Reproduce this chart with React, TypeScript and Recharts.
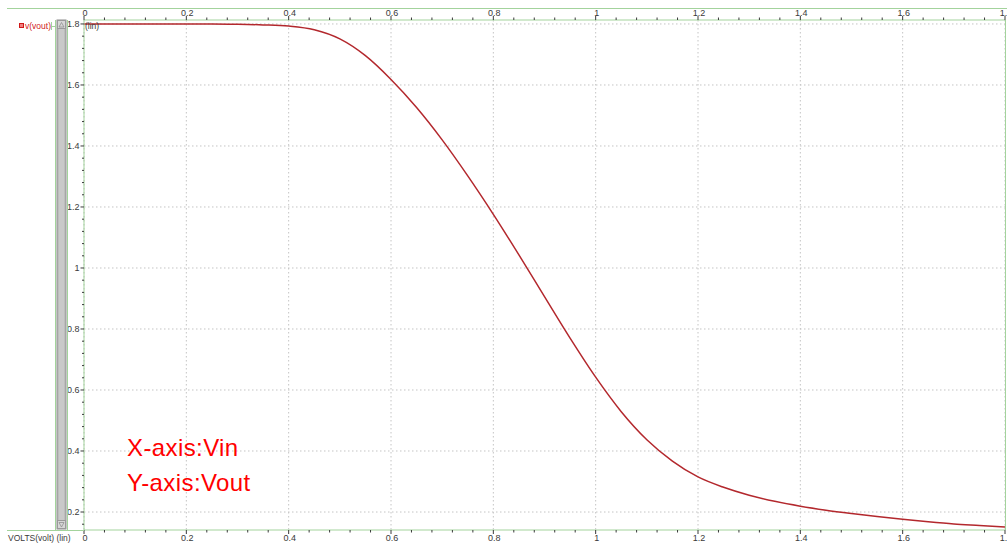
import React from "react";
import { LineChart, Line, XAxis, YAxis, CartesianGrid } from "recharts";

const vin = [
  0, 0.05, 0.1, 0.15, 0.2, 0.25, 0.3, 0.35, 0.4, 0.45, 0.5, 0.55, 0.6, 0.65, 0.7, 0.75, 0.8, 0.85,
  0.9, 0.95, 1.0, 1.05, 1.1, 1.15, 1.2, 1.25, 1.3, 1.35, 1.4, 1.45, 1.5, 1.55, 1.6, 1.65, 1.7,
  1.75, 1.8,
];
const vout = [
  1.8, 1.8, 1.8, 1.8, 1.8, 1.8, 1.799, 1.797, 1.793, 1.781, 1.751, 1.696, 1.618, 1.526, 1.42,
  1.302, 1.176, 1.043, 0.906, 0.77, 0.642, 0.529, 0.437, 0.367, 0.315, 0.281, 0.255, 0.235,
  0.219, 0.206, 0.195, 0.185, 0.176, 0.168, 0.161, 0.156, 0.151,
];

const xMajor = [0, 0.2, 0.4, 0.6, 0.8, 1, 1.2, 1.4, 1.6, 1.8];
const yMajor = [0.2, 0.4, 0.6, 0.8, 1, 1.2, 1.4, 1.6, 1.8];

const W = 1007;
const H = 545;
const GREEN = "#a3d39c";
const RED_LINE = "#b3282d";
const TICK_COLOR = "#3a3a3a";
const FONT = "'Liberation Sans', Arial, sans-serif";

function steps(from: number, to: number, step: number) {
  const out: number[] = [];
  const n = Math.round((to - from) / step);
  for (let i = 0; i <= n; i++) out.push(Math.round((from + i * step) * 1000) / 1000);
  return out;
}

const xTicks = steps(0, 1.8, 0.04);
const yTicks = steps(0.16, 1.8, 0.04);

const isMajor = (v: number) => Math.abs(v * 5 - Math.round(v * 5)) < 1e-6;
const fmt = (v: number) => String(Math.round(v * 10) / 10);

const data = vin.map((x, i) => ({ vin: x, vout: vout[i] }));

function TopTick({ x, y, payload }: any) {
  const v = payload.value;
  const major = isMajor(v);
  return (
    <g>
      <line x1={x} x2={x} y1={y} y2={y - (major ? 4 : 2.5)} stroke={TICK_COLOR} strokeWidth={1} />
      {major && (
        <text x={x + 1} y={y - 4.5} textAnchor="middle" fontSize={9} fontFamily={FONT} fill={TICK_COLOR}>
          {fmt(v)}
        </text>
      )}
    </g>
  );
}

function BottomTick({ x, y, payload }: any) {
  const v = payload.value;
  const major = isMajor(v);
  return (
    <g>
      <line x1={x} x2={x} y1={y} y2={y + (major ? 4 : 2.5)} stroke={TICK_COLOR} strokeWidth={1} />
      {major && (
        <text x={x + 1} y={y + 11} textAnchor="middle" fontSize={9} fontFamily={FONT} fill={TICK_COLOR}>
          {fmt(v)}
        </text>
      )}
    </g>
  );
}

function LeftTick({ x, y, payload }: any) {
  const v = payload.value;
  const major = isMajor(v);
  return (
    <g>
      <line x1={x} x2={x - (major ? 3.5 : 2)} y1={y} y2={y} stroke={TICK_COLOR} strokeWidth={1} />
      {major && (
        <text x={x - 4.5} y={y + 3} textAnchor="end" fontSize={9} fontFamily={FONT} fill={TICK_COLOR}>
          {fmt(v)}
        </text>
      )}
    </g>
  );
}

function Decor() {
  return (
    <svg
      width={W}
      height={H}
      style={{ position: "absolute", left: 0, top: 0, pointerEvents: "none" }}
    >
      {/* frame lines */}
      <line x1={7} x2={W} y1={8.5} y2={8.5} stroke={GREEN} />
      <line x1={7} x2={84} y1={530.5} y2={530.5} stroke={GREEN} />
      <line x1={1005.5} x2={1005.5} y1={20} y2={530} stroke={GREEN} />

      {/* legend */}
      <rect x={19.5} y={23.5} width={4} height={4} fill="#f08080" stroke="#d01818" />
      <text x={25} y={29} fontSize={8.5} fontFamily={FONT} fill="#d02020">
        v(vout)
      </text>
      <line x1={51.5} x2={51.5} y1={22} y2={30} stroke={GREEN} />
      <line x1={51.5} x2={55} y1={26.5} y2={26.5} stroke={GREEN} />

      {/* scrollbar */}
      <line x1={55.5} x2={55.5} y1={20} y2={530} stroke={GREEN} />
      <line x1={67.5} x2={67.5} y1={20} y2={530} stroke={GREEN} />
      <rect x={57} y={20} width={9} height={509} fill="#bdbdbd" stroke="#8e8e8e" strokeWidth={1} />
      <rect x={59} y={21} width={5} height={507} fill="#c9c9c9" />
      <rect x={57.5} y={20.5} width={8} height={8} fill="#d6d6d6" stroke="#9a9a9a" />
      <path d="M61.5 22.5 L64 27 L59 27 Z" fill="none" stroke="#888" strokeWidth={0.7} />
      <rect x={57.5} y={520.5} width={8} height={8} fill="#d6d6d6" stroke="#9a9a9a" />
      <path d="M61.5 527 L64 522.5 L59 522.5 Z" fill="none" stroke="#888" strokeWidth={0.7} />

      {/* axis unit labels */}
      <text x={85} y={29} fontSize={8.5} fontFamily={FONT} fill={TICK_COLOR}>
        (lin)
      </text>
      <text x={8} y={541} fontSize={8.5} fontFamily={FONT} fill={TICK_COLOR}>
        VOLTS(volt) (lin)
      </text>

      {/* annotation */}
      <text x={127} y={456} fontSize={24} letterSpacing={0.4} fontFamily={FONT} fill="#ff0000">
        X-axis:Vin
      </text>
      <text x={127} y={491} fontSize={24} letterSpacing={0.4} fontFamily={FONT} fill="#ff0000">
        Y-axis:Vout
      </text>
    </svg>
  );
}

export default function App() {
  return (
    <div style={{ position: "absolute", left: 0, top: 0, width: W, height: H, background: "#fff" }}>
      <LineChart width={W} height={H} data={data} margin={{ top: 0, right: 2, bottom: 0, left: 0 }}>
        <CartesianGrid
          xAxisId="bottom"
          verticalValues={xMajor}
          horizontalValues={yMajor}
          stroke="#c4c4c4"
          strokeDasharray="1.5 2.5"
        />
        <XAxis
          xAxisId="top"
          orientation="top"
          dataKey="vin"
          type="number"
          domain={[0, 1.8]}
          ticks={xTicks}
          interval={0}
          height={20}
          tickSize={0}
          tickMargin={0}
          tick={<TopTick />}
          axisLine={{ stroke: GREEN }}
          allowDataOverflow
        />
        <XAxis
          xAxisId="bottom"
          orientation="bottom"
          dataKey="vin"
          type="number"
          domain={[0, 1.8]}
          ticks={xTicks}
          interval={0}
          height={15}
          tickSize={0}
          tickMargin={0}
          tick={<BottomTick />}
          axisLine={{ stroke: GREEN }}
          allowDataOverflow
        />
        <YAxis
          type="number"
          domain={[0.141, 1.813]}
          ticks={yTicks}
          interval={0}
          width={84}
          tickSize={0}
          tickMargin={0}
          tick={<LeftTick />}
          axisLine={{ stroke: GREEN }}
          allowDataOverflow
        />
        <Line
          xAxisId="bottom"
          type="monotone"
          dataKey="vout"
          stroke={RED_LINE}
          strokeWidth={1.5}
          dot={false}
          activeDot={false}
          isAnimationActive={false}
        />
      </LineChart>
      <Decor />
    </div>
  );
}
